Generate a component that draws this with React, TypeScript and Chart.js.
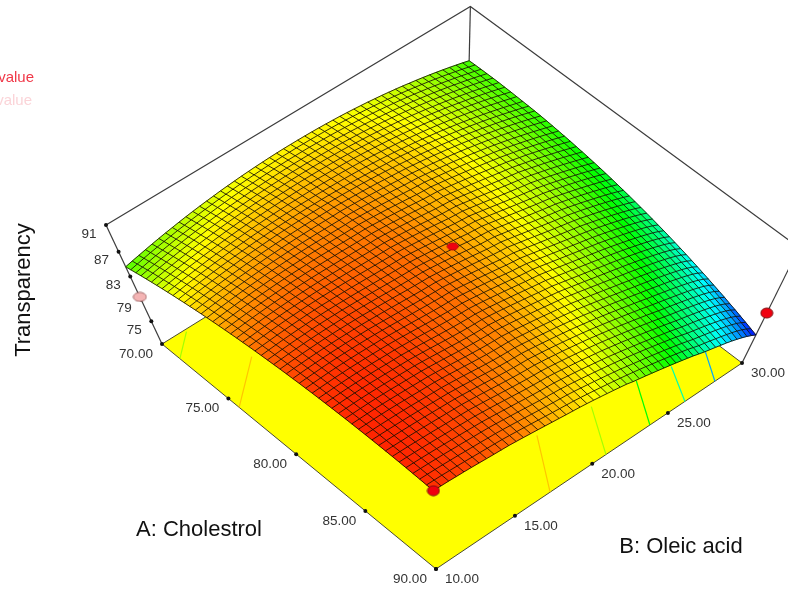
import { useEffect, useRef } from "react";
import { Chart, registerables } from "chart.js";

Chart.register(...registerables);

// ---- data ----
const cholestrolAxis = [70,70.4,70.8,71.2,71.6,72,72.4,72.8,73.2,73.6,74,74.4,74.8,75.2,75.6,76,76.4,76.8,77.2,77.6,78,78.4,78.8,79.2,79.6,80,80.4,80.8,81.2,81.6,82,82.4,82.8,83.2,83.6,84,84.4,84.8,85.2,85.6,86,86.4,86.8,87.2,87.6,88,88.4,88.8,89.2,89.6,90];
const oleicAxis = [10,10.4,10.8,11.2,11.6,12,12.4,12.8,13.2,13.6,14,14.4,14.8,15.2,15.6,16,16.4,16.8,17.2,17.6,18,18.4,18.8,19.2,19.6,20,20.4,20.8,21.2,21.6,22,22.4,22.8,23.2,23.6,24,24.4,24.8,25.2,25.6,26,26.4,26.8,27.2,27.6,28,28.4,28.8,29.2,29.6,30];
const transparency = [
[84.6,84.83,85.04,85.25,85.45,85.64,85.82,85.98,86.15,86.3,86.44,86.57,86.69,86.8,86.91,87,87.08,87.16,87.22,87.28,87.32,87.36,87.39,87.41,87.41,87.41,87.4,87.38,87.35,87.31,87.26,87.21,87.14,87.06,86.97,86.88,86.77,86.66,86.53,86.4,86.26,86.1,85.94,85.77,85.59,85.4,85.2,84.99,84.77,84.54,84.3],
[84.9,85.12,85.34,85.55,85.73,85.91,86.08,86.25,86.4,86.55,86.68,86.81,86.92,87.03,87.13,87.22,87.3,87.36,87.42,87.47,87.51,87.54,87.57,87.57,87.58,87.57,87.56,87.53,87.5,87.45,87.4,87.33,87.26,87.17,87.08,86.98,86.87,86.75,86.62,86.48,86.33,86.17,86,85.83,85.64,85.45,85.24,85.02,84.8,84.56,84.32],
[85.2,85.4,85.62,85.82,86,86.18,86.35,86.5,86.65,86.79,86.92,87.04,87.15,87.25,87.35,87.43,87.5,87.56,87.62,87.66,87.7,87.72,87.74,87.74,87.74,87.73,87.7,87.67,87.63,87.58,87.52,87.45,87.37,87.28,87.18,87.08,86.96,86.83,86.7,86.55,86.4,86.23,86.06,85.88,85.68,85.48,85.27,85.05,84.82,84.58,84.33],
[85.49,85.7,85.9,86.09,86.27,86.44,86.6,86.76,86.9,87.03,87.15,87.27,87.37,87.47,87.55,87.63,87.7,87.75,87.8,87.84,87.87,87.89,87.9,87.9,87.89,87.87,87.85,87.81,87.76,87.7,87.64,87.56,87.48,87.38,87.27,87.16,87.04,86.9,86.77,86.62,86.46,86.29,86.11,85.92,85.72,85.51,85.29,85.07,84.83,84.59,84.33],
[85.77,85.98,86.17,86.35,86.53,86.7,86.85,87,87.13,87.26,87.38,87.49,87.59,87.68,87.76,87.83,87.89,87.94,87.98,88.01,88.04,88.05,88.05,88.05,88.03,88.01,87.98,87.94,87.89,87.82,87.75,87.67,87.58,87.48,87.37,87.25,87.12,86.98,86.83,86.68,86.51,86.34,86.15,85.96,85.75,85.54,85.31,85.08,84.84,84.59,84.33],
[86.05,86.25,86.44,86.61,86.78,86.95,87.1,87.23,87.36,87.49,87.6,87.7,87.8,87.88,87.95,88.02,88.07,88.11,88.15,88.18,88.2,88.2,88.2,88.19,88.17,88.15,88.1,88.06,88,87.93,87.85,87.77,87.67,87.57,87.45,87.33,87.19,87.05,86.89,86.73,86.55,86.37,86.18,85.98,85.76,85.55,85.32,85.08,84.83,84.58,84.32],
[86.32,86.51,86.69,86.87,87.03,87.18,87.33,87.46,87.58,87.7,87.81,87.9,87.99,88.07,88.14,88.2,88.25,88.29,88.32,88.34,88.35,88.35,88.34,88.33,88.3,88.27,88.23,88.17,88.11,88.03,87.95,87.86,87.75,87.64,87.52,87.39,87.25,87.1,86.95,86.78,86.6,86.41,86.21,86,85.78,85.56,85.33,85.08,84.83,84.56,84.29],
[86.58,86.76,86.94,87.11,87.27,87.41,87.56,87.68,87.8,87.91,88.01,88.1,88.18,88.25,88.31,88.37,88.41,88.44,88.46,88.48,88.49,88.48,88.47,88.44,88.41,88.37,88.33,88.27,88.2,88.12,88.03,87.93,87.83,87.71,87.58,87.44,87.3,87.15,86.98,86.81,86.62,86.43,86.23,86.01,85.79,85.56,85.32,85.07,84.81,84.53,84.26],
[86.83,87.01,87.18,87.34,87.49,87.64,87.78,87.9,88.01,88.11,88.2,88.29,88.36,88.42,88.48,88.53,88.56,88.59,88.6,88.61,88.61,88.6,88.58,88.55,88.52,88.47,88.42,88.36,88.28,88.2,88.1,88,87.89,87.77,87.63,87.49,87.34,87.18,87.01,86.83,86.64,86.44,86.23,86.01,85.78,85.54,85.29,85.03,84.77,84.49,84.22],
[87.08,87.25,87.42,87.57,87.72,87.86,87.99,88.1,88.21,88.3,88.39,88.47,88.53,88.59,88.64,88.68,88.71,88.73,88.74,88.74,88.73,88.71,88.68,88.65,88.61,88.56,88.5,88.43,88.35,88.26,88.16,88.05,87.93,87.8,87.66,87.52,87.36,87.2,87.02,86.84,86.64,86.44,86.22,86,85.76,85.52,85.26,85,84.72,84.45,84.18],
[87.31,87.48,87.64,87.79,87.93,88.06,88.18,88.29,88.39,88.48,88.56,88.64,88.69,88.75,88.79,88.82,88.84,88.86,88.86,88.85,88.84,88.82,88.78,88.74,88.69,88.63,88.56,88.49,88.41,88.33,88.26,88.16,88.03,87.9,87.76,87.6,87.43,87.25,87.06,86.87,86.67,86.46,86.24,86.01,85.77,85.52,85.26,84.99,84.72,84.44,84.14],
[87.55,87.71,87.87,88.01,88.14,88.27,88.38,88.49,88.59,88.67,88.75,88.82,88.88,88.93,88.97,89,89.02,89.03,89.03,89.03,89.01,88.98,88.95,88.9,88.84,88.78,88.7,88.62,88.53,88.42,88.31,88.19,88.06,87.92,87.77,87.61,87.45,87.27,87.08,86.89,86.68,86.46,86.24,86,85.76,85.5,85.24,84.97,84.68,84.39,84.09],
[87.77,87.92,88.07,88.2,88.33,88.45,88.56,88.66,88.75,88.84,88.92,88.98,89.03,89.07,89.1,89.12,89.14,89.14,89.13,89.12,89.12,89.08,89.03,88.97,88.91,88.84,88.76,88.66,88.56,88.47,88.37,88.24,88.11,87.96,87.81,87.64,87.47,87.28,87.09,86.89,86.67,86.45,86.22,85.98,85.73,85.47,85.2,84.92,84.63,84.33,84.03],
[87.99,88.14,88.28,88.41,88.53,88.64,88.75,88.84,88.93,89.01,89.08,89.13,89.17,89.2,89.23,89.24,89.24,89.24,89.22,89.21,89.22,89.17,89.11,89.05,88.97,88.89,88.8,88.7,88.6,88.51,88.41,88.27,88.13,87.98,87.82,87.65,87.47,87.28,87.08,86.87,86.66,86.43,86.19,85.95,85.69,85.43,85.15,84.87,84.57,84.27,83.96],
[88.2,88.35,88.48,88.61,88.73,88.84,88.93,89.02,89.1,89.17,89.23,89.27,89.31,89.33,89.35,89.35,89.35,89.33,89.31,89.3,89.31,89.25,89.19,89.11,89.03,88.94,88.84,88.73,88.62,88.54,88.45,88.3,88.15,87.99,87.82,87.65,87.46,87.27,87.06,86.85,86.64,86.4,86.16,85.9,85.64,85.37,85.09,84.8,84.5,84.19,83.88],
[88.4,88.54,88.67,88.79,88.91,89.02,89.11,89.19,89.27,89.33,89.37,89.41,89.44,89.45,89.46,89.46,89.44,89.42,89.4,89.39,89.4,89.33,89.26,89.17,89.08,88.98,88.87,88.76,88.65,88.56,88.48,88.32,88.16,87.99,87.81,87.63,87.44,87.24,87.03,86.82,86.61,86.37,86.12,85.86,85.59,85.32,85.03,84.73,84.43,84.11,83.79],
[88.59,88.72,88.85,88.97,89.08,89.18,89.27,89.35,89.42,89.47,89.51,89.54,89.56,89.57,89.57,89.56,89.54,89.52,89.49,89.48,89.48,89.41,89.32,89.23,89.13,89.02,88.91,88.79,88.66,88.58,88.5,88.33,88.16,87.98,87.79,87.6,87.41,87.21,87,86.78,86.57,86.32,86.07,85.81,85.53,85.25,84.96,84.66,84.35,84.03,83.7],
[88.78,88.9,89.03,89.15,89.25,89.35,89.43,89.5,89.56,89.61,89.64,89.66,89.67,89.68,89.67,89.65,89.63,89.6,89.58,89.56,89.55,89.47,89.38,89.28,89.17,89.06,88.94,88.81,88.68,88.59,88.51,88.33,88.15,87.96,87.77,87.57,87.37,87.16,86.95,86.74,86.53,86.27,86.01,85.75,85.47,85.18,84.88,84.58,84.26,83.94,83.6],
[88.96,89.08,89.2,89.31,89.41,89.5,89.57,89.64,89.7,89.74,89.76,89.78,89.78,89.77,89.76,89.73,89.71,89.68,89.65,89.62,89.6,89.52,89.43,89.32,89.21,89.09,88.96,88.83,88.69,88.6,88.52,88.33,88.14,87.94,87.74,87.53,87.33,87.11,86.9,86.69,86.48,86.22,85.95,85.68,85.39,85.1,84.79,84.49,84.16,83.83,83.49],
[89.13,89.25,89.37,89.47,89.56,89.64,89.71,89.77,89.82,89.86,89.88,89.89,89.88,89.87,89.85,89.82,89.78,89.75,89.71,89.68,89.67,89.58,89.48,89.37,89.25,89.13,88.99,88.85,88.71,88.61,88.52,88.33,88.13,87.92,87.71,87.49,87.28,87.06,86.85,86.65,86.45,86.17,85.9,85.61,85.32,85.01,84.7,84.38,84.05,83.72,83.38],
[89.3,89.41,89.52,89.62,89.71,89.78,89.84,89.89,89.93,89.96,89.98,89.98,89.97,89.95,89.93,89.89,89.85,89.81,89.77,89.74,89.72,89.62,89.51,89.39,89.26,89.13,88.99,88.85,88.7,88.61,88.52,88.31,88.09,87.88,87.66,87.44,87.22,87,86.78,86.57,86.36,86.09,85.81,85.53,85.23,84.92,84.61,84.28,83.95,83.61,83.26],
[89.45,89.56,89.67,89.76,89.85,89.92,89.98,90.02,90.05,90.07,90.08,90.07,90.06,90.03,90,89.96,89.91,89.87,89.82,89.79,89.77,89.66,89.54,89.42,89.29,89.15,89.01,88.86,88.7,88.6,88.5,88.28,88.06,87.84,87.61,87.38,87.16,86.93,86.71,86.5,86.29,86.01,85.73,85.44,85.13,84.82,84.5,84.17,83.83,83.48,83.13],
[89.61,89.71,89.81,89.9,89.98,90.05,90.1,90.14,90.17,90.18,90.18,90.16,90.14,90.11,90.06,90.02,89.97,89.92,89.87,89.83,89.8,89.69,89.56,89.43,89.3,89.15,89,88.85,88.69,88.58,88.48,88.25,88.02,87.79,87.56,87.32,87.09,86.86,86.64,86.42,86.21,85.93,85.64,85.34,85.03,84.72,84.39,84.06,83.71,83.36,83],
[89.75,89.85,89.94,90.03,90.1,90.16,90.21,90.25,90.27,90.28,90.26,90.24,90.2,90.16,90.11,90.07,90.01,89.96,89.91,89.87,89.83,89.71,89.58,89.44,89.3,89.15,89,88.84,88.67,88.56,88.45,88.22,87.98,87.74,87.5,87.26,87.02,86.79,86.56,86.34,86.13,85.84,85.55,85.24,84.93,84.61,84.28,83.94,83.59,83.23,82.85],
[89.88,89.98,90.07,90.15,90.21,90.27,90.31,90.34,90.36,90.36,90.34,90.31,90.27,90.22,90.16,90.1,90.04,89.99,89.94,89.89,89.85,89.73,89.59,89.45,89.3,89.14,88.98,88.81,88.64,88.53,88.42,88.18,87.94,87.69,87.44,87.19,86.95,86.71,86.47,86.25,86.03,85.74,85.44,85.13,84.82,84.49,84.16,83.81,83.46,83.09,82.7],
[90.01,90.1,90.19,90.26,90.32,90.37,90.41,90.43,90.44,90.43,90.41,90.37,90.33,90.27,90.21,90.14,90.08,90.02,89.96,89.91,89.87,89.74,89.6,89.45,89.29,89.13,88.96,88.79,88.61,88.49,88.37,88.13,87.88,87.63,87.37,87.12,86.87,86.62,86.38,86.15,85.93,85.63,85.33,85.02,84.7,84.37,84.03,83.68,83.32,82.94,82.54],
[90.13,90.22,90.3,90.36,90.42,90.46,90.49,90.5,90.5,90.49,90.48,90.43,90.38,90.32,90.25,90.17,90.1,90.03,89.97,89.92,89.87,89.74,89.59,89.44,89.28,89.11,88.94,88.76,88.57,88.45,88.32,88.07,87.82,87.56,87.3,87.04,86.78,86.53,86.29,86.05,85.82,85.52,85.21,84.9,84.57,84.24,83.89,83.54,83.17,82.78,82.37],
[90.25,90.33,90.4,90.46,90.51,90.55,90.57,90.58,90.57,90.55,90.53,90.48,90.42,90.35,90.28,90.2,90.12,90.04,89.98,89.92,89.87,89.73,89.58,89.42,89.26,89.08,88.91,88.72,88.53,88.39,88.26,88,87.75,87.49,87.22,86.96,86.69,86.43,86.18,85.94,85.7,85.4,85.09,84.77,84.44,84.1,83.75,83.39,83.01,82.62,82.2],
[90.36,90.44,90.5,90.56,90.6,90.63,90.64,90.64,90.63,90.61,90.58,90.52,90.45,90.38,90.3,90.21,90.13,90.05,89.98,89.92,89.87,89.72,89.56,89.4,89.23,89.05,88.87,88.68,88.48,88.34,88.2,87.94,87.67,87.41,87.14,86.87,86.6,86.34,86.08,85.83,85.58,85.28,84.96,84.64,84.3,83.96,83.6,83.23,82.85,82.45,82.02],
[90.45,90.53,90.59,90.64,90.68,90.7,90.71,90.71,90.69,90.66,90.63,90.56,90.48,90.4,90.31,90.22,90.13,90.05,89.97,89.9,89.85,89.7,89.54,89.37,89.19,89.01,88.82,88.62,88.42,88.27,88.12,87.85,87.58,87.31,87.04,86.77,86.5,86.23,85.97,85.71,85.45,85.14,84.82,84.5,84.16,83.81,83.45,83.08,82.69,82.28,81.83],
[90.55,90.61,90.67,90.72,90.76,90.77,90.77,90.76,90.73,90.7,90.66,90.58,90.5,90.41,90.31,90.21,90.12,90.03,89.95,89.88,89.83,89.68,89.51,89.33,89.15,88.96,88.77,88.57,88.36,88.2,88.04,87.77,87.5,87.22,86.94,86.66,86.39,86.12,85.85,85.58,85.31,85,84.68,84.35,84.01,83.66,83.3,82.92,82.52,82.1,81.64],
[90.63,90.69,90.74,90.79,90.82,90.83,90.82,90.8,90.77,90.73,90.69,90.6,90.51,90.41,90.31,90.2,90.1,90,89.92,89.85,89.8,89.64,89.47,89.29,89.1,88.91,88.71,88.5,88.29,88.13,87.96,87.68,87.4,87.12,86.84,86.55,86.27,86,85.72,85.45,85.17,84.86,84.54,84.2,83.86,83.5,83.14,82.76,82.36,81.92,81.43],
[90.71,90.76,90.81,90.85,90.87,90.88,90.86,90.83,90.8,90.75,90.71,90.62,90.52,90.41,90.3,90.18,90.07,89.97,89.88,89.81,89.76,89.6,89.42,89.24,89.04,88.85,88.64,88.43,88.22,88.04,87.86,87.58,87.29,87,86.72,86.43,86.15,85.86,85.58,85.3,85.02,84.7,84.38,84.04,83.7,83.34,82.97,82.59,82.18,81.73,81.22],
[90.78,90.82,90.87,90.9,90.92,90.92,90.89,90.86,90.81,90.76,90.72,90.62,90.52,90.4,90.28,90.15,90.04,89.93,89.84,89.76,89.71,89.55,89.37,89.18,88.98,88.78,88.57,88.36,88.14,87.95,87.76,87.47,87.18,86.89,86.6,86.31,86.02,85.73,85.44,85.15,84.86,84.54,84.21,83.87,83.53,83.17,82.8,82.41,82,81.54,81.01],
[90.84,90.88,90.92,90.95,90.96,90.95,90.92,90.88,90.82,90.77,90.73,90.62,90.51,90.38,90.25,90.12,90,89.88,89.79,89.71,89.66,89.49,89.31,89.11,88.91,88.7,88.49,88.27,88.05,87.85,87.65,87.35,87.06,86.76,86.47,86.17,85.88,85.58,85.28,84.99,84.69,84.37,84.04,83.7,83.35,82.99,82.62,82.22,81.8,81.33,80.78],
[90.9,90.93,90.97,90.99,91,90.98,90.94,90.89,90.83,90.77,90.72,90.61,90.49,90.36,90.22,90.08,89.95,89.83,89.73,89.65,89.6,89.43,89.24,89.04,88.84,88.62,88.41,88.19,87.96,87.74,87.53,87.23,86.93,86.63,86.33,86.03,85.73,85.42,85.12,84.82,84.52,84.19,83.86,83.52,83.17,82.81,82.43,82.03,81.6,81.12,80.55],
[90.94,90.98,91.01,91.02,91.01,90.98,90.94,90.88,90.82,90.76,90.71,90.59,90.46,90.32,90.18,90.03,89.89,89.77,89.66,89.58,89.54,89.36,89.17,88.97,88.76,88.54,88.32,88.09,87.86,87.63,87.41,87.11,86.8,86.5,86.19,85.88,85.57,85.26,84.95,84.64,84.33,84,83.67,83.33,82.98,82.61,82.23,81.83,81.39,80.9,80.31],
[90.99,91.01,91.03,91.04,91.03,91,90.95,90.88,90.82,90.76,90.7,90.57,90.44,90.29,90.14,89.98,89.84,89.71,89.6,89.52,89.46,89.28,89.09,88.88,88.67,88.45,88.23,88,87.76,87.53,87.3,86.98,86.67,86.36,86.04,85.73,85.41,85.09,84.78,84.46,84.15,83.82,83.49,83.14,82.79,82.42,82.03,81.63,81.18,80.68,80.07],
[91.02,91.03,91.05,91.05,91.03,90.99,90.93,90.87,90.8,90.73,90.67,90.54,90.4,90.25,90.09,89.93,89.78,89.64,89.53,89.45,89.38,89.2,89,88.79,88.58,88.36,88.13,87.89,87.65,87.4,87.15,86.84,86.53,86.21,85.89,85.57,85.24,84.92,84.6,84.27,83.95,83.62,83.28,82.93,82.58,82.2,81.81,81.4,80.95,80.44,79.81],
[91.04,91.05,91.06,91.05,91.03,90.98,90.92,90.85,90.77,90.7,90.64,90.51,90.36,90.2,90.04,89.87,89.72,89.57,89.46,89.37,89.29,89.11,88.9,88.69,88.47,88.25,88.02,87.78,87.53,87.27,87,86.69,86.38,86.06,85.74,85.41,85.07,84.74,84.41,84.08,83.75,83.42,83.07,82.72,82.36,81.98,81.59,81.18,80.72,80.2,79.55],
[91.06,91.06,91.06,91.04,91.01,90.96,90.9,90.82,90.73,90.66,90.6,90.46,90.31,90.15,89.98,89.8,89.64,89.49,89.37,89.28,89.2,89.01,88.8,88.59,88.36,88.13,87.9,87.65,87.4,87.12,86.84,86.53,86.22,85.9,85.57,85.24,84.9,84.56,84.22,83.88,83.54,83.2,82.85,82.5,82.13,81.75,81.36,80.94,80.48,79.95,79.28],
[91.08,91.07,91.05,91.02,90.98,90.93,90.87,90.79,90.7,90.63,90.56,90.41,90.26,90.09,89.92,89.74,89.57,89.41,89.28,89.18,89.09,88.9,88.69,88.47,88.24,88.01,87.77,87.52,87.26,86.97,86.68,86.37,86.05,85.73,85.4,85.06,84.72,84.37,84.02,83.66,83.31,82.97,82.62,82.27,81.9,81.52,81.12,80.7,80.23,79.69,79.01],
[91.08,91.06,91.04,91,90.95,90.89,90.82,90.74,90.66,90.58,90.5,90.35,90.19,90.02,89.85,89.67,89.49,89.33,89.19,89.08,88.98,88.79,88.58,88.36,88.13,87.89,87.64,87.38,87.11,86.81,86.51,86.2,85.88,85.55,85.22,84.88,84.53,84.18,83.82,83.46,83.09,82.75,82.39,82.03,81.66,81.28,80.88,80.45,79.97,79.42,78.72],
[91.08,91.05,91.02,90.98,90.92,90.85,90.78,90.7,90.62,90.53,90.45,90.29,90.13,89.95,89.77,89.59,89.41,89.24,89.09,88.97,88.87,88.67,88.46,88.23,88,87.75,87.5,87.23,86.96,86.65,86.34,86.03,85.7,85.37,85.03,84.69,84.33,83.97,83.6,83.23,82.86,82.51,82.15,81.78,81.41,81.03,80.62,80.19,79.7,79.13,78.44],
[91.07,91.04,91,90.95,90.88,90.81,90.73,90.64,90.56,90.47,90.38,90.22,90.05,89.87,89.68,89.5,89.31,89.14,88.98,88.85,88.74,88.54,88.32,88.09,87.85,87.6,87.34,87.07,86.8,86.49,86.17,85.85,85.52,85.18,84.84,84.49,84.13,83.76,83.38,83,82.63,82.27,81.91,81.54,81.16,80.77,80.36,79.92,79.42,78.84,78.15],
[91.05,91.02,90.97,90.91,90.84,90.76,90.67,90.58,90.49,90.4,90.3,90.14,89.97,89.79,89.6,89.41,89.22,89.04,88.88,88.74,88.62,88.41,88.18,87.94,87.69,87.44,87.17,86.9,86.62,86.31,85.99,85.67,85.33,84.99,84.64,84.28,83.91,83.54,83.16,82.77,82.38,82.02,81.66,81.29,80.91,80.51,80.09,79.64,79.13,78.53,77.83],
[91.03,90.99,90.94,90.87,90.8,90.71,90.61,90.52,90.42,90.32,90.22,90.05,89.88,89.69,89.5,89.31,89.11,88.93,88.76,88.61,88.47,88.25,88.02,87.78,87.52,87.26,86.99,86.71,86.43,86.1,85.77,85.44,85.1,84.76,84.41,84.05,83.68,83.31,82.93,82.53,82.13,81.77,81.41,81.04,80.65,80.25,79.82,79.36,78.85,78.24,77.53],
[90.99,90.95,90.9,90.83,90.75,90.65,90.55,90.45,90.34,90.24,90.13,89.96,89.78,89.59,89.4,89.2,89,88.81,88.64,88.48,88.32,88.1,87.86,87.61,87.35,87.09,86.81,86.53,86.24,85.93,85.62,85.28,84.94,84.59,84.24,83.87,83.5,83.12,82.73,82.3,81.86,81.5,81.14,80.76,80.37,79.96,79.53,79.06,78.53,77.91,77.2],
[90.95,90.91,90.85,90.78,90.69,90.59,90.48,90.37,90.26,90.14,90.03,89.86,89.68,89.49,89.29,89.08,88.88,88.69,88.51,88.34,88.17,87.94,87.69,87.44,87.17,86.9,86.62,86.33,86.04,85.7,85.35,85.02,84.69,84.34,83.99,83.63,83.25,82.87,82.47,82.04,81.6,81.24,80.87,80.48,80.09,79.68,79.24,78.76,78.23,77.6,76.88],
[90.9,90.86,90.8,90.72,90.62,90.52,90.4,90.29,90.17,90.05,89.93,89.75,89.57,89.37,89.17,88.96,88.76,88.56,88.37,88.18,87.99,87.76,87.51,87.26,86.99,86.71,86.43,86.14,85.84,85.52,85.2,84.86,84.51,84.16,83.8,83.42,83.04,82.65,82.24,81.78,81.32,80.96,80.58,80.19,79.79,79.38,78.93,78.45,77.9,77.26,76.54],
[90.85,90.8,90.74,90.64,90.55,90.44,90.31,90.18,90.05,89.94,89.82,89.64,89.45,89.25,89.05,88.84,88.63,88.43,88.22,88.03,87.83,87.6,87.35,87.09,86.82,86.54,86.25,85.96,85.55,85.23,84.9,84.55,84.2,83.84,83.48,83.1,82.72,82.33,81.93,81.48,81.03,80.65,80.27,79.87,79.47,79.03,78.56,78.05,77.5,76.88,76.2],
];
const cholestrolTicks = [70, 75, 80, 85, 90];
const oleicTicks = [10, 15, 20, 25, 30];
const responseTicks = [75, 79, 83, 87, 91];
const designAbove = [
  { a: 90, b: 10, z: 90.85 },
  { a: 80, b: 20, z: 89.5 },
  { a: 90, b: 30, z: 80.3 },
];
const designBelow = [{ a: 70, b: 10, z: 79.5 }];
const contourLevels = [88.3, 85.9, 83.4, 81, 78.6];
const contourPaths = [
  [[[75.8, 10], [73.6, 12.66]], [[90, 17.26], [86.84, 19.32]]],
  [[[71.36, 10], [70.15, 11.42]], [[90, 20.9], [87.2, 22.56]]],
  [[[90, 23.8], [87.4, 25.36]]],
  [[[90, 26.14], [87.85, 27.28]]],
  [[[90, 28.16], [88.23, 29.22]]],
];
const floorLevel = 70.5;
const topLevel = 91;

// ---- perspective of the 3D box onto the flat chart scales ----
function project(A: number, B: number, Z: number) {
  const u = (A - 70) / 20;
  const v = (B - 10) / 20;
  const t = (Z - floorLevel) / (topLevel - floorLevel);
  const w = 1 - 0.04059 * u + 0.04153 * v - 0.1633 * t;
  return {
    x: (256.3 * u + 324.4 * v + 162 - 73.3 * t) / w,
    y: (201.9 * u - 182.56 * v + 344 - 155.8 * t) / w,
  };
}

const stops: [number, number, number, number][] = [
  [76.2, 0, 0, 255],
  [79.9, 0, 255, 255],
  [83.4, 0, 255, 0],
  [87.3, 255, 255, 0],
  [91.7, 255, 0, 0],
];
function colorOf(z: number) {
  const zc = Math.min(91.7, Math.max(76.2, z));
  for (let i = 0; i < stops.length - 1; i++) {
    const p = stops[i];
    const q = stops[i + 1];
    if (zc <= q[0]) {
      const f = (zc - p[0]) / (q[0] - p[0]);
      const c = [1, 2, 3].map((k) => Math.round(p[k] + (q[k] - p[k]) * f));
      return `rgb(${c[0]},${c[1]},${c[2]})`;
    }
  }
  return "rgb(255,0,0)";
}

function ellipse(w: number, h: number, fill: string, stroke: string) {
  const c = document.createElement("canvas");
  c.width = w + 2;
  c.height = h + 2;
  const g = c.getContext("2d")!;
  g.beginPath();
  g.ellipse(w / 2 + 1, h / 2 + 1, w / 2, h / 2, 0, 0, Math.PI * 2);
  g.fillStyle = fill;
  g.fill();
  g.strokeStyle = stroke;
  g.lineWidth = 1;
  g.stroke();
  return c;
}

const line = (pts: { x: number; y: number }[], color: string, width: number) => ({
  data: pts,
  showLine: true,
  borderColor: color,
  borderWidth: width,
  pointRadius: 0,
  fill: false,
});

function buildDatasets() {
  const ds: any[] = [];
  const rows = transparency.length;
  const cols = transparency[0].length;
  const node = (i: number, j: number) =>
    project(cholestrolAxis[i], oleicAxis[j], transparency[i][j]);

  designAbove.forEach((d, i) =>
    ds.push({
      data: [project(d.a, d.b, d.z)],
      showLine: false,
      pointStyle: ellipse(i === 1 ? 11 : 12, i === 1 ? 7 : 10, "#f0000f", i === 1 ? "#c00010" : "#801010"),
      pointRadius: 6,
    })
  );
  designBelow.forEach((d) =>
    ds.push({
      data: [project(d.a, d.b, d.z)],
      showLine: false,
      pointStyle: ellipse(13, 9, "#f4b4b4", "#a87070"),
      pointRadius: 6,
    })
  );
  ds.push({
    data: [
      ...cholestrolTicks.map((a) => project(a, 10, floorLevel)),
      ...oleicTicks.map((b) => project(90, b, floorLevel)),
      ...responseTicks.map((z) => project(70, 10, z)),
    ],
    showLine: false,
    pointStyle: "circle",
    pointRadius: 2,
    backgroundColor: "#111",
    borderWidth: 0,
  });
  for (let i = 0; i < rows; i++) {
    const pts = [];
    for (let j = 0; j < cols; j++) pts.push(node(i, j));
    ds.push(line(pts, "rgba(15,10,0,0.82)", 1));
  }
  for (let j = 0; j < cols; j++) {
    const pts = [];
    for (let i = 0; i < rows; i++) pts.push(node(i, j));
    ds.push(line(pts, "rgba(15,10,0,0.82)", 1));
  }
  for (let i = 0; i < rows - 1; i++) {
    for (let j = 0; j < cols - 1; j++) {
      const z =
        (transparency[i][j] + transparency[i + 1][j] + transparency[i + 1][j + 1] + transparency[i][j + 1]) / 4;
      const c = colorOf(z);
      ds.push({
        data: [node(i, j), node(i + 1, j), node(i + 1, j + 1), node(i, j + 1), node(i, j)],
        showLine: true,
        borderColor: c,
        borderWidth: 0.6,
        backgroundColor: c,
        pointRadius: 0,
        fill: "shape",
      });
    }
  }
  contourPaths.forEach((paths, k) =>
    paths.forEach((p) =>
      ds.push(line(p.map(([a, b]) => project(a, b, floorLevel)), colorOf(contourLevels[k]), 1.2))
    )
  );
  const corners: [number, number][] = [[70, 10], [90, 10], [90, 30], [70, 30], [70, 10]];
  ds.push({
    data: corners.map(([a, b]) => project(a, b, floorLevel)),
    showLine: true,
    borderColor: "#4a4a30",
    borderWidth: 1,
    backgroundColor: "#ffff00",
    pointRadius: 0,
    fill: "shape",
  });
  const frame = [
    [[70, 10, floorLevel], [70, 10, topLevel]],
    [[90, 30, floorLevel], [90, 30, topLevel]],
    [[70, 30, floorLevel], [70, 30, topLevel]],
    [[70, 10, topLevel], [70, 30, topLevel], [90, 30, topLevel]],
  ];
  frame.forEach((f) => ds.push(line(f.map(([a, b, z]) => project(a, b, z)), "#3c3c3c", 1.2)));
  return ds;
}

const textPlugin = {
  id: "boxText",
  afterDraw(chart: any) {
    const { ctx, scales } = chart;
    const px = (p: { x: number; y: number }) => ({
      x: scales.x.getPixelForValue(p.x),
      y: scales.y.getPixelForValue(p.y),
    });
    const put = (s: string, x: number, y: number, font: string, color: string, align = "center", rot = 0) => {
      ctx.save();
      ctx.translate(x, y);
      ctx.rotate(rot);
      ctx.font = font;
      ctx.fillStyle = color;
      ctx.textAlign = align;
      ctx.textBaseline = "middle";
      ctx.fillText(s, 0, 0);
      ctx.restore();
    };
    const tickFont = '13.5px "Liberation Sans"';
    const titleFont = '22px "Liberation Sans"';
    cholestrolTicks.forEach((a) => {
      const p = px(project(a, 10, floorLevel));
      put(a.toFixed(2), p.x - 26, p.y + 10, tickFont, "#333");
    });
    oleicTicks.forEach((b) => {
      const p = px(project(90, b, floorLevel));
      put(b.toFixed(2), p.x + 26, p.y + 10, tickFont, "#333");
    });
    responseTicks.forEach((z) => {
      const p = px(project(70, 10, z));
      put(String(z), p.x - 17, p.y + 9, tickFont, "#333");
    });
    put("A: Cholestrol", 199, 530, titleFont, "#111");
    put("B: Oleic acid", 681, 547, titleFont, "#111");
    put("Transparency", 24, 290, titleFont, "#111", "center", -Math.PI / 2);
    put("value", 34, 78, '15px "Liberation Sans"', "#f03848", "right");
    put("value", 32, 101, '15px "Liberation Sans"', "#fbd4d8", "right");
  },
};

export default function App() {
  const ref = useRef<HTMLCanvasElement>(null);
  useEffect(() => {
    const chart = new Chart(ref.current!, {
      type: "scatter",
      data: { datasets: buildDatasets() },
      plugins: [textPlugin],
      options: {
        animation: false,
        responsive: false,
        devicePixelRatio: 1,
        parsing: false,
        normalized: true,
        events: [],
        layout: { padding: 0, autoPadding: false },
        plugins: { legend: { display: false }, tooltip: { enabled: false } },
        scales: {
          x: { type: "linear", display: false, min: 0, max: 788 },
          y: { type: "linear", display: false, min: 0, max: 592, reverse: true },
        },
      },
    } as any);
    return () => chart.destroy();
  }, []);
  return (
    <canvas
      ref={ref}
      width={788}
      height={592}
      style={{ position: "fixed", left: 0, top: 0, width: 788, height: 592, display: "block" }}
    />
  );
}
